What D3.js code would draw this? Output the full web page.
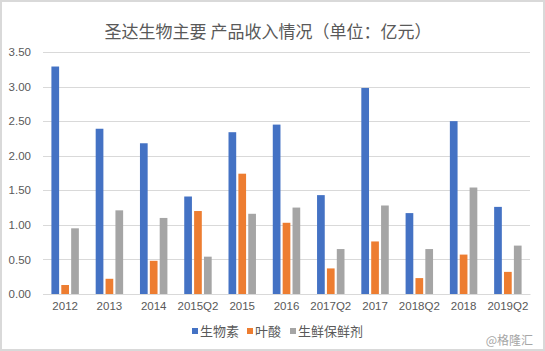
<!DOCTYPE html>
<html>
<head>
<meta charset="utf-8">
<script src="https://cdn.jsdelivr.net/npm/d3@7"></script>
<style>
  body { margin: 0; background: #fff; }
  svg { display: block; font-family: "Noto Sans CJK SC", "Noto Sans", sans-serif; }
</style>
</head>
<body>
<div id="chart"></div>
<script>
/* DATA */
const categories = ["2012", "2013", "2014", "2015Q2", "2015", "2016", "2017Q2", "2017", "2018Q2", "2018", "2019Q2"];
const seriesNames = ["生物素", "叶酸", "生鲜保鲜剂"];
const biotin = [3.29, 2.39, 2.18, 1.41, 2.34, 2.45, 1.43, 2.98, 1.17, 2.50, 1.26];
const folicAcid = [0.13, 0.22, 0.48, 1.20, 1.74, 1.03, 0.37, 0.76, 0.23, 0.57, 0.32];
const preservative = [0.95, 1.21, 1.10, 0.54, 1.16, 1.25, 0.65, 1.28, 0.65, 1.54, 0.70];
const yTicks = [0, 0.5, 1, 1.5, 2, 2.5, 3, 3.5];
const title = "圣达生物主要 产品收入情况（单位：亿元）";

/* CONSTANTS */
const width = 545,
  height = 351,
  margin = { top: 52, bottom: 57, left: 43, right: 15 },
  colors = ["#4472C4", "#ED7D31", "#A5A5A5"];

const values = [biotin, folicAcid, preservative];
const rows = categories.map((c, i) => ({
  cat: c,
  vals: seriesNames.map((s, j) => ({ key: s, value: values[j][i] }))
}));

const svg = d3.select("#chart").append("svg")
  .attr("width", width)
  .attr("height", height);

// frame
svg.append("rect")
  .attr("x", 1).attr("y", 1)
  .attr("width", width - 2).attr("height", height - 2)
  .attr("fill", "#fff")
  .attr("stroke", "#d9d9d9")
  .attr("stroke-width", 2);

// scales
const xScale = d3.scaleBand()
  .domain(categories)
  .range([margin.left, width - margin.right])
  .paddingInner(0.38)
  .paddingOuter(0.19);

const xInner = d3.scaleBand()
  .domain(seriesNames)
  .range([0, xScale.bandwidth()])
  .paddingInner(0.22);

const yScale = d3.scaleLinear()
  .domain([0, 3.5])
  .range([height - margin.bottom, margin.top]);

// gridlines
svg.append("g")
  .selectAll("line")
  .data(yTicks)
  .join("line")
  .attr("x1", margin.left)
  .attr("x2", width - margin.right)
  .attr("y1", d => Math.round(yScale(d)) + 0.5)
  .attr("y2", d => Math.round(yScale(d)) + 0.5)
  .attr("stroke", "#d9d9d9")
  .attr("stroke-width", 1);

// y axis labels
const yAxis = d3.axisLeft(yScale)
  .tickValues(yTicks)
  .tickFormat(d3.format(".2f"))
  .tickSize(0)
  .tickPadding(12);

svg.append("g")
  .attr("transform", `translate(${margin.left},0)`)
  .call(yAxis)
  .call(g => g.select(".domain").remove())
  .selectAll("text")
  .attr("fill", "#595959")
  .attr("font-size", 11.5)
  .attr("font-family", "Liberation Sans, Arial, sans-serif");

// x axis
const xAxis = d3.axisBottom(xScale).tickSize(0).tickPadding(8);

svg.append("g")
  .attr("transform", `translate(0,${height - margin.bottom})`)
  .call(xAxis)
  .call(g => g.select(".domain").attr("stroke", "#d9d9d9"))
  .selectAll("text")
  .attr("fill", "#595959")
  .attr("font-size", 11.5)
  .attr("font-family", "Liberation Sans, Arial, sans-serif");

// bars
svg.append("g")
  .selectAll("g")
  .data(rows)
  .join("g")
  .attr("transform", d => `translate(${xScale(d.cat)},0)`)
  .selectAll("rect")
  .data(d => d.vals)
  .join("rect")
  .attr("x", d => xInner(d.key))
  .attr("width", xInner.bandwidth())
  .attr("y", d => yScale(d.value))
  .attr("height", d => yScale(0) - yScale(d.value))
  .attr("fill", (d, i) => colors[i]);

// title
svg.append("text")
  .attr("x", 268)
  .attr("y", 38)
  .attr("text-anchor", "middle")
  .attr("fill", "#595959")
  .attr("font-size", 17)
  .text(title);

// legend
const legendX = [192, 247, 290];
const legend = svg.append("g")
  .selectAll("g")
  .data(seriesNames)
  .join("g")
  .attr("transform", (d, i) => `translate(${legendX[i]},331)`);

legend.append("rect")
  .attr("x", 0).attr("y", -3)
  .attr("width", 6).attr("height", 6)
  .attr("fill", (d, i) => colors[i]);

legend.append("text")
  .attr("x", 8)
  .attr("y", 4.5)
  .attr("fill", "#595959")
  .attr("font-size", 13)
  .text(d => d);

// watermark
svg.append("text")
  .attr("x", 533)
  .attr("y", 345)
  .attr("text-anchor", "end")
  .attr("fill", "#a6a6a6")
  .attr("font-size", 12)
  .text("@格隆汇");
</script>
</body>
</html>
